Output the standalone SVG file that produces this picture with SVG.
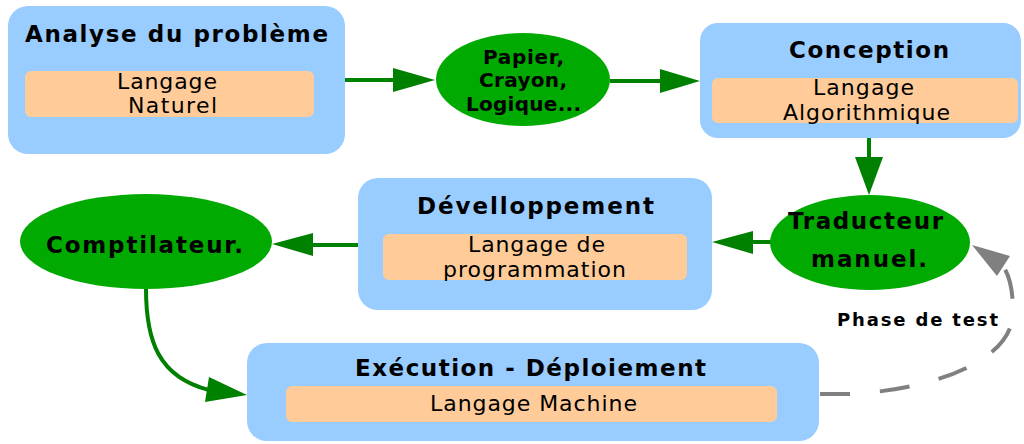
<svg xmlns="http://www.w3.org/2000/svg" width="1024" height="444" viewBox="0 0 1024 444">
<style>
.box{fill:#99CCFF}
.inner{fill:#FFCC99}
.ell{fill:#00AA00}
.t{font-family:"DejaVu Sans","Liberation Sans",sans-serif;fill:#000}
.b{font-weight:bold}
.ln{stroke:#008000;stroke-width:4;fill:none}
.ah{fill:#008000}
.dash{stroke:#808080;stroke-width:4;fill:none;stroke-dasharray:30 30}
.gah{fill:#808080}
</style>
<rect width="1024" height="444" fill="#fff"/>
<g id="connectors">
<line class="ln" x1="345" y1="80" x2="395" y2="80"/>
<polygon class="ah" points="393,68 435,80 393,92"/>
<line class="ln" x1="610" y1="81" x2="662" y2="81"/>
<polygon class="ah" points="660,69 700,81 660,93"/>
<line class="ln" x1="869" y1="138" x2="869" y2="159"/>
<polygon class="ah" points="855,157 883,157 869,195"/>
<line class="ln" x1="771" y1="242" x2="751" y2="242"/>
<polygon class="ah" points="753,231 712,242 753,254"/>
<line class="ln" x1="358" y1="245" x2="311" y2="245"/>
<polygon class="ah" points="313,233 272,244 313,256"/>
<path class="ln" d="M146,289 C146,340 158,377 209,390"/>
<polygon class="ah" points="209,377 247,395 205,402"/>
<path class="dash" d="M820,394 L850,394 C930,390 1013,362 1013,312 C1013,292 1010,276 1003,266"/>
<polygon class="gah" points="972,245 1010,256 997,276"/>
<text class="t b" x="837" y="326" font-size="18" textLength="161" lengthAdjust="spacing">Phase de test</text>
</g>
<g id="analyse">
<rect class="box" x="8" y="6" width="337" height="148" rx="20"/>
<rect class="inner" x="25" y="71" width="289" height="46" rx="6"/>
<text class="t b" x="25" y="42" font-size="23" textLength="303" lengthAdjust="spacing">Analyse du problème</text>
<text class="t" x="117" y="89" font-size="22" textLength="100" lengthAdjust="spacing">Langage</text>
<text class="t" x="128" y="113" font-size="22" textLength="89" lengthAdjust="spacing">Naturel</text>
</g>
<g id="papier">
<ellipse class="ell" cx="523" cy="79.5" rx="87" ry="46.5"/>
<text class="t b" x="483" y="64" font-size="20" textLength="81" lengthAdjust="spacing">Papier,</text>
<text class="t b" x="479" y="87" font-size="20" textLength="88" lengthAdjust="spacing">Crayon,</text>
<text class="t b" x="466" y="111" font-size="20" textLength="115" lengthAdjust="spacing">Logique...</text>
</g>
<g id="conception">
<rect class="box" x="700" y="23" width="321" height="115" rx="18"/>
<rect class="inner" x="712" y="78" width="306" height="45" rx="6"/>
<text class="t b" x="789" y="58" font-size="23" textLength="160" lengthAdjust="spacing">Conception</text>
<text class="t" x="813" y="95" font-size="22" textLength="101" lengthAdjust="spacing">Langage</text>
<text class="t" x="783" y="120" font-size="22" textLength="167" lengthAdjust="spacing">Algorithmique</text>
</g>
<g id="traducteur">
<ellipse class="ell" cx="870" cy="242.5" rx="100" ry="47.5"/>
<text class="t b" x="788" y="229" font-size="23" textLength="155" lengthAdjust="spacing">Traducteur</text>
<text class="t b" x="811" y="267" font-size="23" textLength="116" lengthAdjust="spacing">manuel.</text>
</g>
<g id="developpement">
<rect class="box" x="358" y="178" width="354" height="132" rx="20"/>
<rect class="inner" x="383" y="234" width="304" height="46" rx="6"/>
<text class="t b" x="417" y="214" font-size="23" textLength="237" lengthAdjust="spacing">Dévelloppement</text>
<text class="t" x="468" y="252" font-size="22" textLength="137" lengthAdjust="spacing">Langage de</text>
<text class="t" x="443" y="277" font-size="22" textLength="183" lengthAdjust="spacing">programmation</text>
</g>
<g id="compilateur">
<ellipse class="ell" cx="146" cy="241.5" rx="126" ry="47.5"/>
<text class="t b" x="46" y="253" font-size="23" textLength="197" lengthAdjust="spacing">Comptilateur.</text>
</g>
<g id="execution">
<rect class="box" x="247" y="343" width="572" height="98" rx="20"/>
<rect class="inner" x="286" y="386" width="491" height="36" rx="6"/>
<text class="t b" x="355" y="376" font-size="23" textLength="351" lengthAdjust="spacing">Exécution - Déploiement</text>
<text class="t" x="430" y="411" font-size="22" textLength="207" lengthAdjust="spacing">Langage Machine</text>
</g>
</svg>
